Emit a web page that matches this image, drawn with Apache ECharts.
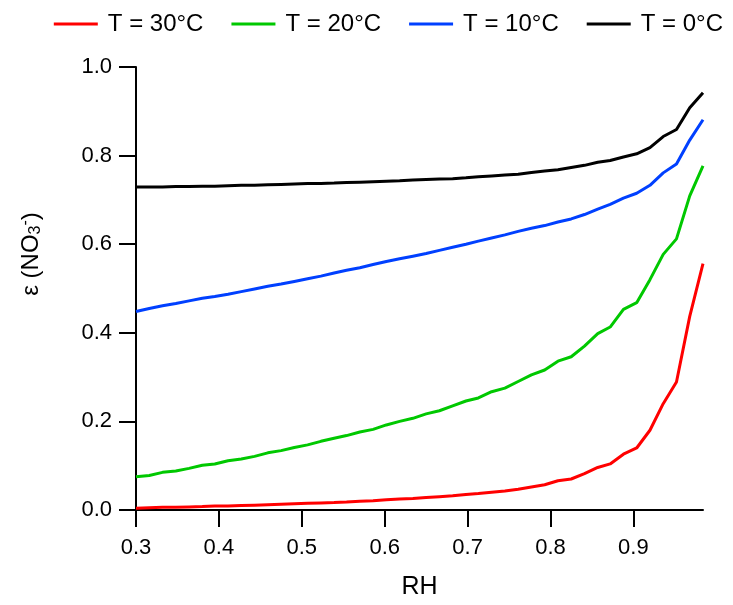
<!DOCTYPE html>
<html>
<head>
<meta charset="utf-8">
<script src="https://cdn.jsdelivr.net/npm/echarts@6/dist/echarts.min.js"></script>
<style>
html,body{margin:0;padding:0;background:#fff;}
#chart{width:733px;height:605px;}
</style>
</head>
<body>
<div id="chart"></div>
<script>
const RH = [0.300,0.316,0.332,0.348,0.364,0.380,0.395,0.411,0.427,0.443,0.459,0.475,0.491,0.507,0.523,0.539,0.554,0.570,0.586,0.602,0.618,0.634,0.650,0.666,0.682,0.698,0.713,0.729,0.745,0.761,0.777,0.793,0.809,0.825,0.841,0.857,0.872,0.888,0.904,0.920,0.936,0.952,0.968,0.984];

const T30 = [0.004,0.005,0.006,0.006,0.007,0.008,0.009,0.009,0.010,0.011,0.012,0.013,0.014,0.015,0.016,0.017,0.018,0.020,0.021,0.023,0.025,0.026,0.028,0.030,0.032,0.035,0.037,0.040,0.043,0.047,0.052,0.057,0.066,0.070,0.082,0.096,0.104,0.126,0.140,0.180,0.240,0.289,0.437,0.556];

const T20 = [0.075,0.078,0.085,0.088,0.094,0.101,0.104,0.111,0.115,0.121,0.129,0.134,0.141,0.147,0.155,0.162,0.168,0.176,0.182,0.192,0.200,0.207,0.217,0.224,0.235,0.246,0.253,0.267,0.275,0.290,0.305,0.316,0.336,0.346,0.370,0.398,0.413,0.453,0.468,0.520,0.577,0.612,0.709,0.777];

const T10 = [0.448,0.455,0.461,0.466,0.472,0.478,0.482,0.487,0.493,0.499,0.505,0.510,0.516,0.522,0.528,0.535,0.541,0.547,0.554,0.561,0.567,0.573,0.579,0.586,0.593,0.600,0.607,0.614,0.621,0.629,0.636,0.642,0.650,0.657,0.667,0.679,0.690,0.704,0.715,0.733,0.761,0.781,0.835,0.881];

const T0 = [0.729,0.729,0.729,0.730,0.730,0.731,0.731,0.732,0.733,0.733,0.734,0.735,0.736,0.737,0.737,0.738,0.739,0.740,0.741,0.742,0.743,0.745,0.746,0.747,0.748,0.750,0.752,0.754,0.756,0.758,0.762,0.765,0.768,0.773,0.778,0.785,0.789,0.797,0.804,0.818,0.843,0.859,0.908,0.942];

const seriesNames = ['T = 30°C','T = 20°C','T = 10°C','T = 0°C'];
const seriesColors = ['#ff0000','#00c800','#0040ff','#000000'];
const seriesValues = [T30, T20, T10, T0];

const xTicks = [0.3,0.4,0.5,0.6,0.7,0.8,0.9];
const yTicks = [0.0,0.2,0.4,0.6,0.8,1.0];

const FONT = '"Liberation Sans", Arial, sans-serif';

const chart = echarts.init(document.getElementById('chart'), null, {renderer:'canvas'});
chart.setOption({
  animation: false,
  backgroundColor: '#ffffff',
  textStyle: {fontFamily: FONT, color: '#000'},
  legend: {
    top: 7,
    right: 5,
    icon: 'rect',
    itemWidth: 44,
    itemHeight: 3,
    itemGap: 28,
    data: seriesNames,
    textStyle: {fontFamily: FONT, fontSize: 24, color: '#000', padding: [0,0,0,5]}
  },
  grid: {left: 136, right: 30, top: 67, bottom: 88, containLabel: false},
  xAxis: {
    type: 'value',
    min: 0.3,
    max: 0.984,
    interval: 0.1,
    name: 'RH',
    nameLocation: 'middle',
    nameGap: 65,
    nameTextStyle: {fontFamily: FONT, fontSize: 25, color: '#000'},
    axisLine: {onZero: false, lineStyle: {color: '#000', width: 2}},
    axisTick: {show: true, inside: false, length: 17, lineStyle: {color: '#000', width: 2}, customValues: xTicks},
    axisLabel: {fontFamily: FONT, fontSize: 22, color: '#000', margin: 27, customValues: xTicks,
      formatter: v => v.toFixed(1)},
    splitLine: {show: false}
  },
  yAxis: {
    type: 'value',
    min: 0,
    max: 1,
    interval: 0.2,
    name: '{n|ε (NO}{sub|3}{sup|-}{n|)}',
    nameLocation: 'middle',
    nameGap: 92,
    nameTextStyle: {
      fontFamily: FONT, fontSize: 24, color: '#000', padding: [0,0,0,69],
      rich: {
        n: {fontFamily: FONT, fontSize: 24, color: '#000'},
        sub: {fontFamily: FONT, fontSize: 16, color: '#000', verticalAlign: 'bottom', padding: [10,0,0,0]},
        sup: {fontFamily: FONT, fontSize: 16, color: '#000', verticalAlign: 'top', padding: [0,0,10,0]}
      }
    },
    axisLine: {show: true, onZero: false, lineStyle: {color: '#000', width: 2}},
    axisTick: {show: true, inside: false, length: 17, lineStyle: {color: '#000', width: 2}, customValues: yTicks},
    axisLabel: {fontFamily: FONT, fontSize: 22, color: '#000', margin: 24, customValues: yTicks,
      formatter: v => v.toFixed(1)},
    splitLine: {show: false}
  },
  series: seriesValues.map((vals, i) => ({
    name: seriesNames[i],
    type: 'line',
    showSymbol: false,
    symbol: 'none',
    itemStyle: {color: seriesColors[i]},
    lineStyle: {color: seriesColors[i], width: 3},
    data: RH.map((x, j) => [x, vals[j]])
  }))
});
</script>
</body>
</html>
